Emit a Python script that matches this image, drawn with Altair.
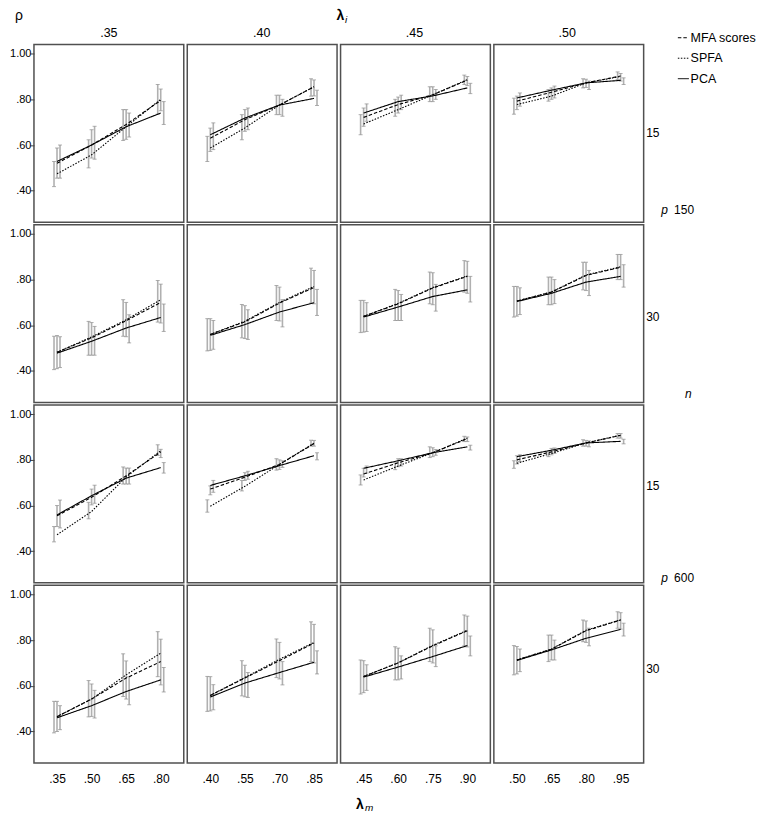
import altair as alt
import pandas as pd

FONT = "Liberation Sans"

SERIES = ["MFA scores", "SPFA", "PCA"]
LAMBDA_I = [".35", ".40", ".45", ".50"]
LAMBDA_M = [
    [0.35, 0.50, 0.65, 0.80],
    [0.40, 0.55, 0.70, 0.85],
    [0.45, 0.60, 0.75, 0.90],
    [0.50, 0.65, 0.80, 0.95],
]
P_LABELS = ["15", "30", "15", "30"]
N_LABELS = ["150", "600"]
Y_TICKS = [0.40, 0.60, 0.80, 1.00]

# panels in order: rows (n=150,p=15), (n=150,p=30), (n=600,p=15), (n=600,p=30); columns lambda_i .35-.50
MFA_MEAN = [
    [0.520, 0.600, 0.690, 0.795], [0.630, 0.711, 0.775, 0.855], [0.721, 0.777, 0.820, 0.884], [0.792, 0.831, 0.872, 0.902],
    [0.482, 0.545, 0.620, 0.700], [0.560, 0.615, 0.697, 0.765], [0.639, 0.694, 0.763, 0.814], [0.706, 0.745, 0.818, 0.854],
    [0.555, 0.636, 0.730, 0.834], [0.672, 0.724, 0.780, 0.871], [0.738, 0.787, 0.831, 0.893], [0.800, 0.835, 0.874, 0.907],
    [0.465, 0.542, 0.634, 0.706], [0.558, 0.634, 0.710, 0.787], [0.641, 0.700, 0.775, 0.841], [0.713, 0.760, 0.841, 0.888],
]
MFA_LO = [
    [0.455, 0.543, 0.625, 0.750], [0.572, 0.660, 0.733, 0.815], [0.682, 0.740, 0.790, 0.860], [0.755, 0.800, 0.852, 0.880],
    [0.410, 0.469, 0.550, 0.610], [0.490, 0.542, 0.619, 0.694], [0.570, 0.621, 0.690, 0.740], [0.640, 0.690, 0.752, 0.800],
    [0.508, 0.603, 0.694, 0.810], [0.647, 0.710, 0.758, 0.860], [0.725, 0.770, 0.814, 0.880], [0.782, 0.822, 0.860, 0.895],
    [0.400, 0.466, 0.542, 0.604], [0.490, 0.552, 0.630, 0.700], [0.570, 0.626, 0.700, 0.770], [0.652, 0.713, 0.790, 0.848],
]
MFA_HI = [
    [0.587, 0.667, 0.755, 0.845], [0.674, 0.755, 0.818, 0.885], [0.762, 0.810, 0.855, 0.900], [0.814, 0.850, 0.888, 0.913],
    [0.555, 0.612, 0.700, 0.780], [0.629, 0.686, 0.767, 0.840], [0.709, 0.752, 0.830, 0.880], [0.770, 0.811, 0.876, 0.910],
    [0.600, 0.672, 0.764, 0.846], [0.686, 0.744, 0.800, 0.885], [0.763, 0.805, 0.853, 0.900], [0.818, 0.850, 0.885, 0.915],
    [0.532, 0.608, 0.709, 0.804], [0.640, 0.690, 0.790, 0.869], [0.710, 0.765, 0.845, 0.905], [0.772, 0.822, 0.884, 0.920],
]
SPFA_MEAN = [
    [0.474, 0.557, 0.680, 0.800], [0.587, 0.675, 0.775, 0.855], [0.692, 0.755, 0.820, 0.886], [0.777, 0.814, 0.872, 0.900],
    [0.482, 0.549, 0.624, 0.712], [0.560, 0.618, 0.700, 0.770], [0.639, 0.696, 0.765, 0.816], [0.706, 0.746, 0.820, 0.856],
    [0.472, 0.574, 0.725, 0.840], [0.597, 0.684, 0.780, 0.873], [0.712, 0.773, 0.831, 0.895], [0.785, 0.828, 0.874, 0.908],
    [0.465, 0.542, 0.648, 0.743], [0.558, 0.636, 0.716, 0.790], [0.641, 0.701, 0.777, 0.843], [0.713, 0.761, 0.843, 0.889],
]
SPFA_LO = [
    [0.418, 0.500, 0.620, 0.735], [0.528, 0.623, 0.733, 0.814], [0.645, 0.726, 0.790, 0.865], [0.735, 0.792, 0.850, 0.887],
    [0.406, 0.469, 0.552, 0.614], [0.488, 0.545, 0.621, 0.697], [0.568, 0.621, 0.694, 0.745], [0.636, 0.690, 0.755, 0.800],
    [0.441, 0.542, 0.694, 0.819], [0.571, 0.664, 0.755, 0.860], [0.690, 0.757, 0.810, 0.880], [0.763, 0.814, 0.860, 0.895],
    [0.394, 0.464, 0.553, 0.640], [0.488, 0.556, 0.636, 0.706], [0.564, 0.626, 0.706, 0.775], [0.648, 0.706, 0.793, 0.852],
]
SPFA_HI = [
    [0.528, 0.623, 0.755, 0.865], [0.638, 0.733, 0.818, 0.890], [0.733, 0.800, 0.855, 0.906], [0.805, 0.843, 0.890, 0.920],
    [0.552, 0.617, 0.712, 0.796], [0.629, 0.691, 0.774, 0.850], [0.709, 0.757, 0.833, 0.883], [0.770, 0.811, 0.876, 0.910],
    [0.508, 0.614, 0.769, 0.866], [0.625, 0.710, 0.805, 0.886], [0.734, 0.787, 0.857, 0.903], [0.796, 0.835, 0.888, 0.915],
    [0.532, 0.623, 0.740, 0.837], [0.641, 0.710, 0.805, 0.880], [0.713, 0.771, 0.852, 0.910], [0.776, 0.822, 0.888, 0.924],
]
PCA_MEAN = [
    [0.528, 0.600, 0.680, 0.740], [0.645, 0.718, 0.775, 0.804], [0.740, 0.790, 0.815, 0.850], [0.806, 0.840, 0.872, 0.883],
    [0.478, 0.530, 0.588, 0.634], [0.556, 0.603, 0.658, 0.699], [0.636, 0.680, 0.726, 0.755], [0.704, 0.740, 0.789, 0.814],
    [0.559, 0.643, 0.720, 0.766], [0.688, 0.730, 0.775, 0.818], [0.763, 0.796, 0.831, 0.857], [0.814, 0.842, 0.874, 0.881],
    [0.460, 0.513, 0.575, 0.626], [0.551, 0.612, 0.658, 0.703], [0.638, 0.682, 0.728, 0.776], [0.711, 0.757, 0.808, 0.847],
]
PCA_LO = [
    [0.455, 0.538, 0.635, 0.690], [0.580, 0.667, 0.726, 0.773], [0.704, 0.755, 0.800, 0.825], [0.770, 0.806, 0.843, 0.865],
    [0.415, 0.469, 0.523, 0.573], [0.495, 0.538, 0.593, 0.643], [0.573, 0.621, 0.662, 0.702], [0.647, 0.695, 0.730, 0.767],
    [0.502, 0.610, 0.694, 0.742], [0.658, 0.715, 0.767, 0.800], [0.742, 0.773, 0.820, 0.843], [0.793, 0.828, 0.857, 0.870],
    [0.408, 0.459, 0.517, 0.573], [0.495, 0.549, 0.604, 0.652], [0.580, 0.630, 0.684, 0.731], [0.662, 0.713, 0.775, 0.818],
]
PCA_HI = [
    [0.600, 0.682, 0.740, 0.790], [0.697, 0.762, 0.800, 0.840], [0.780, 0.818, 0.843, 0.870], [0.828, 0.858, 0.880, 0.894],
    [0.550, 0.595, 0.646, 0.693], [0.621, 0.668, 0.712, 0.757], [0.699, 0.735, 0.779, 0.814], [0.764, 0.800, 0.840, 0.865],
    [0.624, 0.689, 0.764, 0.788], [0.710, 0.750, 0.796, 0.831], [0.773, 0.805, 0.845, 0.864], [0.822, 0.852, 0.883, 0.890],
    [0.513, 0.580, 0.640, 0.680], [0.605, 0.658, 0.706, 0.753], [0.692, 0.731, 0.775, 0.818], [0.761, 0.800, 0.852, 0.874],
]

SOURCES = {
    "MFA scores": (MFA_MEAN, MFA_LO, MFA_HI),
    "SPFA": (SPFA_MEAN, SPFA_LO, SPFA_HI),
    "PCA": (PCA_MEAN, PCA_LO, PCA_HI),
}

records = []
for r in range(4):
    for c in range(4):
        k = r * 4 + c
        for s in SERIES:
            m, lo, hi = SOURCES[s]
            for j in range(4):
                records.append(dict(row=r, col=c, series=s, lam=LAMBDA_M[c][j],
                                    mean=m[k][j], lo=lo[k][j], hi=hi[k][j]))
df = pd.DataFrame(records)

PW, PH = 150, 178
LABEL_EXPR = "replace(format(datum.value, '.2f'), '0.', '.')"
DODGE = "datum.lam + (datum.series === 'SPFA' ? -0.013 : (datum.series === 'PCA' ? 0.013 : 0))"
DASH = alt.Scale(domain=SERIES, range=[[3.5, 2], [1.5, 1.5], [1, 0]])
NOSTROKE = alt.ViewBackground(stroke=None)
BAR_COLOR = "#b0b0b0"
CAP_COLOR = "#8f8f8f"

LEGEND = alt.Legend(title=None, orient="none", legendX=644, legendY=22, symbolType="stroke",
                    symbolSize=121, symbolStrokeWidth=1, symbolStrokeColor="black",
                    labelFontSize=12.5, labelFont=FONT, labelColor="black", rowPadding=7.5,
                    labelOffset=1)


def panel(r, c):
    d = df[(df["row"] == r) & (df["col"] == c)]
    xs = LAMBDA_M[c]
    xsc = alt.Scale(domain=[xs[0] - 0.1, xs[-1] + 0.1], nice=False, zero=False)
    ysc = alt.Scale(domain=[0.262, 1.04], nice=False, zero=False)
    if r == 3:
        xax = alt.Axis(values=xs, labelExpr=LABEL_EXPR, title=None, ticks=False, domain=False,
                       grid=False, labelFontSize=12, labelPadding=10.5, labelColor="black", labelFont=FONT)
    else:
        xax = None
    if c == 0:
        yax = alt.Axis(values=Y_TICKS, labelExpr=LABEL_EXPR, title=None, tickSize=4, tickColor="#444",
                       domain=False, grid=False, labelFontSize=11, labelPadding=-1, labelColor="black",
                       labelFont=FONT)
    else:
        yax = None
    base = alt.Chart(d).transform_calculate(xd=DODGE)
    bars = base.mark_rule(color=BAR_COLOR, strokeWidth=1.6).encode(
        x=alt.X("xd:Q", scale=xsc, axis=xax),
        y=alt.Y("lo:Q", scale=ysc, axis=yax),
        y2="hi:Q",
    )
    cap_lo = base.mark_tick(color=CAP_COLOR, size=4, thickness=1, orient="horizontal").encode(
        x=alt.X("xd:Q", scale=xsc, axis=xax), y=alt.Y("lo:Q", scale=ysc, axis=yax))
    cap_hi = base.mark_tick(color=CAP_COLOR, size=4, thickness=1, orient="horizontal").encode(
        x=alt.X("xd:Q", scale=xsc, axis=xax), y=alt.Y("hi:Q", scale=ysc, axis=yax))
    lines = alt.Chart(d).mark_line(color="black", strokeWidth=1.1).encode(
        x=alt.X("lam:Q", scale=xsc, axis=xax),
        y=alt.Y("mean:Q", scale=ysc, axis=yax),
        strokeDash=alt.StrokeDash("series:N", scale=DASH,
                                  legend=LEGEND if (r == 0 and c == 0) else None),
    )
    return alt.layer(bars, cap_lo, cap_hi, lines).properties(width=PW, height=PH)


def txt(s, x, y, size=12, style="normal", weight="normal", align="left"):
    return alt.Chart(pd.DataFrame({"t": [s]})).mark_text(
        align=align, baseline="middle", fontSize=size, fontStyle=style, fontWeight=weight,
        font=FONT, color="black").encode(text="t:N", x=alt.value(x), y=alt.value(y))


SIDE_P_Y = [89, 92, 81, 84]


def side(r):
    layers = [txt(P_LABELS[r], 0, SIDE_P_Y[r])]
    if r == 0:
        layers += [txt("p", 15, 166, style="italic"), txt(N_LABELS[0], 28, 166)]
    if r == 1:
        layers += [txt("n", 39, 169, style="italic")]
    if r == 2:
        layers += [txt("p", 15, 173, style="italic"), txt(N_LABELS[1], 28, 173)]
    return alt.layer(*layers).properties(width=100, height=PH, view=NOSTROKE)


rows = [alt.hconcat(*[panel(r, c) for c in range(4)], side(r), spacing=1.5) for r in range(4)]
grid = alt.vconcat(*rows, spacing=0.5)

COL_X = [75, 228, 381, 534]
header = alt.layer(
    txt("ρ", -19, 6, size=14),
    txt("λ", 303, 6, size=14, weight="bold"),
    txt("i", 311.5, 10, size=10, style="italic"),
    *[txt(LAMBDA_I[c], COL_X[c], 23.5, size=12.5, align="center") for c in range(4)],
).properties(width=600, height=32, view=NOSTROKE)

footer = alt.layer(
    txt("λ", 322.5, 18, size=14, weight="bold"),
    txt("m", 331.5, 21, size=10, style="italic"),
).properties(width=600, height=26, view=NOSTROKE)

chart = (
    alt.vconcat(header, grid, footer, spacing=2)
    .properties(padding=0)
    .configure(font=FONT)
    .configure_view(stroke="#505050", strokeWidth=1.5)
)

chart.save("out.html", embed_options={"renderer": "svg", "actions": False})
